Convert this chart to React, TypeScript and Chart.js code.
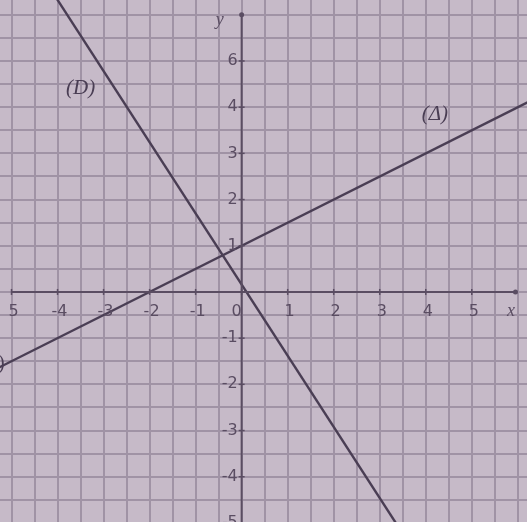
import React, { useEffect, useRef } from "react";
import { Chart, registerables } from "chart.js";

Chart.register(...registerables);

// Line (D): read endpoints
const lineD_x = [-4.05, 3.35];
const lineD_y = [6.4, -5.0];
// Line (Δ): read endpoints
const lineDelta_x = [-5.3, 6.3];
const lineDelta_y = [-1.65, 4.15];

// Tick labels as they appear in the picture
const xTickValues = [-5, -4, -3, -2, -1, 0, 1, 2, 3, 4, 5];
const xTickLabels = ["5", "-4", "-3", "-2", "-1", "0", "1", "2", "3", "4", "5"];
const yTickValues = [5, 4, 3, 2, 1, -1, -2, -3, -4, -5];
const yTickLabels = ["6", "4", "3", "2", "1", "-1", "-2", "-3", "-4", "-5"];

const curveLabels = [
  { text: "(D)", x: -3.5, y: 4.4 },
  { text: "(Δ)", x: 4.2, y: 3.85 },
];

const X_MIN = -5.25;
const X_MAX = 6.2;
const Y_MIN = -4.98;
const Y_MAX = 6.32;

const BG = "#c6bac8";
const GRID = "#a093a5";
const AXIS = "#5a4d62";
const INK = "#4a3e54";
const TEXT = "#5a4d62";

const gridValues = (min: number, max: number) => {
  const out: { value: number }[] = [];
  for (let v = Math.ceil(min * 2) / 2; v <= max; v += 0.5) out.push({ value: v });
  return out;
};

const paperPlugin = {
  id: "paper",
  beforeDraw(chart: any) {
    const { ctx, width, height } = chart;
    ctx.save();
    ctx.fillStyle = BG;
    ctx.fillRect(0, 0, width, height);
    ctx.restore();
  },
  afterDatasetsDraw(chart: any) {
    const { ctx } = chart;
    const xs = chart.scales.x;
    const ys = chart.scales.y;
    const x0 = xs.getPixelForValue(0);
    const y0 = ys.getPixelForValue(0);
    ctx.save();
    ctx.strokeStyle = AXIS;
    ctx.lineWidth = 2;
    // x axis
    ctx.beginPath();
    ctx.moveTo(xs.getPixelForValue(-5), y0);
    ctx.lineTo(xs.getPixelForValue(5.95), y0);
    ctx.stroke();
    // y axis
    ctx.beginPath();
    ctx.moveTo(x0, ys.getPixelForValue(6.0));
    ctx.lineTo(x0, ys.getPixelForValue(Y_MIN));
    ctx.stroke();
    // arrow heads
    ctx.fillStyle = AXIS;
    ctx.beginPath();
    ctx.arc(x0, ys.getPixelForValue(6.0), 2.5, 0, Math.PI * 2);
    ctx.fill();
    ctx.beginPath();
    ctx.arc(xs.getPixelForValue(5.95), y0, 2.5, 0, Math.PI * 2);
    ctx.fill();
    // tick marks
    ctx.lineWidth = 1.5;
    xTickValues.forEach((v) => {
      const p = xs.getPixelForValue(v);
      ctx.beginPath();
      ctx.moveTo(p, y0 - 3);
      ctx.lineTo(p, y0 + 3);
      ctx.stroke();
    });
    yTickValues.forEach((v) => {
      const p = ys.getPixelForValue(v);
      ctx.beginPath();
      ctx.moveTo(x0 - 3, p);
      ctx.lineTo(x0 + 3, p);
      ctx.stroke();
    });
    // tick labels
    ctx.fillStyle = TEXT;
    ctx.font = "16px 'DejaVu Sans', sans-serif";
    ctx.textAlign = "center";
    ctx.textBaseline = "middle";
    xTickValues.forEach((v, i) => {
      const shift = v === 0 ? -5 : 2;
      ctx.fillText(xTickLabels[i], xs.getPixelForValue(v) + shift, y0 + 20);
    });
    ctx.textAlign = "right";
    yTickValues.forEach((v, i) => {
      ctx.fillText(yTickLabels[i], x0 - 4, ys.getPixelForValue(v));
    });
    // axis names
    ctx.font = "italic 18px 'Liberation Serif', serif";
    ctx.textAlign = "center";
    ctx.fillText("y", x0 - 22, ys.getPixelForValue(6.0) + 5);
    ctx.fillText("x", xs.getPixelForValue(5.85), y0 + 19);
    // curve labels
    ctx.fillStyle = INK;
    ctx.font = "italic 21px 'Liberation Serif', serif";
    curveLabels.forEach((l) => {
      ctx.fillText(l.text, xs.getPixelForValue(l.x), ys.getPixelForValue(l.y));
    });
    ctx.font = "20px 'Liberation Serif', serif";
    ctx.textAlign = "left";
    ctx.fillText(")", -2, ys.getPixelForValue(-1.55));
    ctx.restore();
  },
};

export default function App() {
  const ref = useRef<HTMLCanvasElement | null>(null);
  useEffect(() => {
    document.body.style.margin = "0";
    const canvas = ref.current;
    if (!canvas) return;
    const chart = new Chart(canvas, {
      type: "scatter",
      data: {
        datasets: [
          {
            label: "(D)",
            data: lineD_x.map((x, i) => ({ x, y: lineD_y[i] })),
            showLine: true,
            borderColor: INK,
            borderWidth: 2.4,
            pointRadius: 0,
          },
          {
            label: "(Δ)",
            data: lineDelta_x.map((x, i) => ({ x, y: lineDelta_y[i] })),
            showLine: true,
            borderColor: INK,
            borderWidth: 2.4,
            pointRadius: 0,
          },
        ],
      },
      options: {
        responsive: false,
        animation: false,
        layout: { padding: 0 },
        plugins: {
          legend: { display: false },
          tooltip: { enabled: false },
        },
        scales: {
          x: {
            type: "linear",
            min: X_MIN,
            max: X_MAX,
            afterBuildTicks: (s: any) => {
              s.ticks = gridValues(X_MIN, X_MAX);
            },
            ticks: { display: false },
            border: { display: false },
            grid: { color: GRID, lineWidth: 2, drawTicks: false },
          },
          y: {
            type: "linear",
            min: Y_MIN,
            max: Y_MAX,
            afterBuildTicks: (s: any) => {
              s.ticks = gridValues(Y_MIN, Y_MAX);
            },
            ticks: { display: false },
            border: { display: false },
            grid: { color: GRID, lineWidth: 2, drawTicks: false },
          },
        },
      },
      plugins: [paperPlugin],
    });
    return () => chart.destroy();
  }, []);
  return (
    <div style={{ width: 527, height: 522 }}>
      <canvas ref={ref} width={527} height={522} style={{ display: "block" }} />
    </div>
  );
}
